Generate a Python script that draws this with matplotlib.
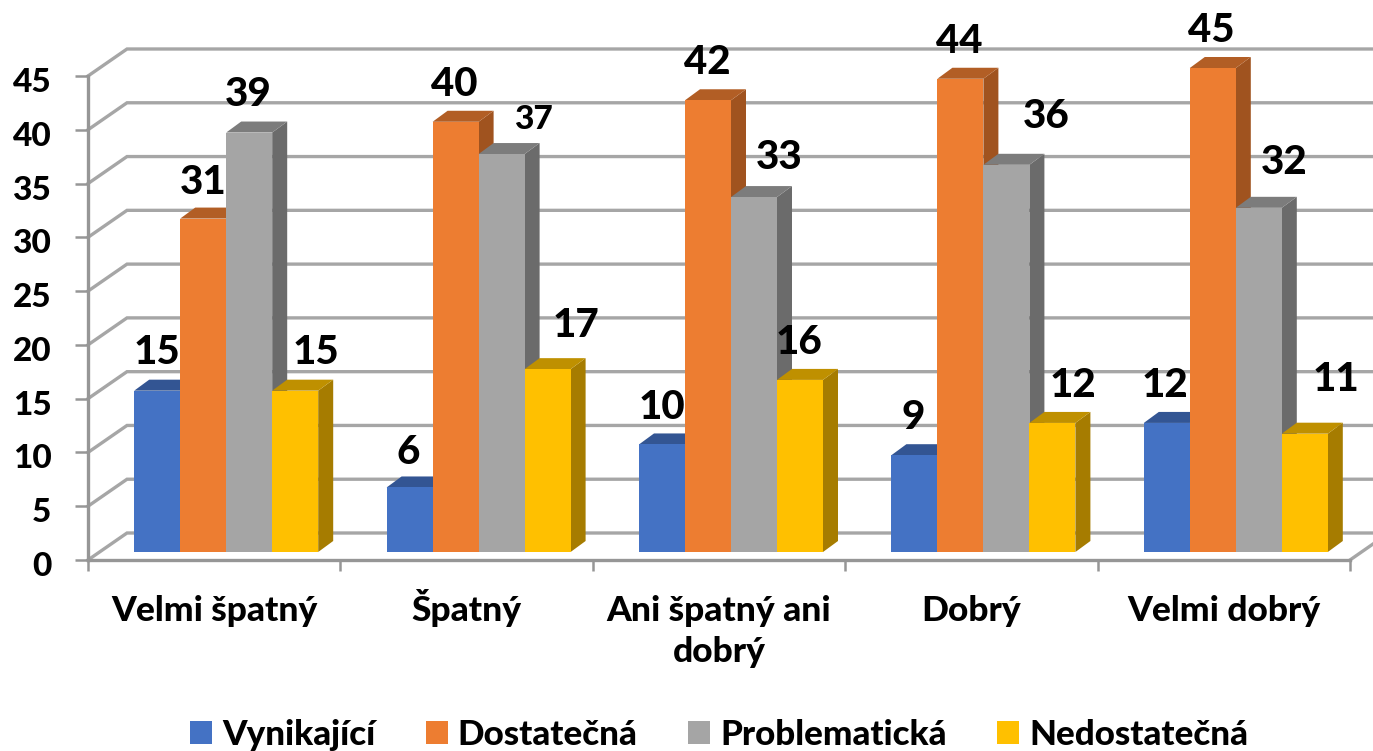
import matplotlib
matplotlib.use("Agg")
import matplotlib.pyplot as plt
from matplotlib.patches import Polygon
from matplotlib.transforms import ScaledTranslation

categories = ["Velmi špatný", "Špatný", "Ani špatný ani\ndobrý", "Dobrý", "Velmi dobrý"]
series_names = ["Vynikající", "Dostatečná", "Problematická", "Nedostatečná"]
vynikajici = [15, 6, 10, 9, 12]
dostatecna = [31, 40, 42, 44, 45]
problematicka = [39, 37, 33, 36, 32]
nedostatecna = [15, 17, 16, 12, 11]
series = [vynikajici, dostatecna, problematicka, nedostatecna]
yticks = [0, 5, 10, 15, 20, 25, 30, 35, 40, 45]

front_colors = ["#4472C4", "#ED7D31", "#A5A5A5", "#FFC000"]
top_colors = ["#335593", "#B25E25", "#7C7C7C", "#BF9000"]
side_colors = ["#2B4A80", "#A0531F", "#6B6B6B", "#A67C00"]
GRID = "#A6A6A6"
AXIS = "#969696"
WEIGHT = 900

# pixel offsets of the labels from the top centre of each bar
label_offsets = [
    [(0, 38), (0, 36), (-1, 38), (21, 38)],
    [(-1, 35), (-1, 37), (32, 35), (28, 44)],
    [(0, 37), (-1, 38), (25, 40), (-1, 37)],
    [(-1, 38), (-1, 37), (40, 48), (21, 37)],
    [(-2, 37), (-2, 37), (25, 45), (31, 54)],
]

plt.rcParams["font.family"] = ["Lato", "DejaVu Sans"]

W, H = 1373, 751
fig = plt.figure(figsize=(W / 100, H / 100), dpi=100)
L, R, B, T = 88, 1350, 560, 76
ax = fig.add_axes([L / W, (H - B) / H, (R - L) / W, (B - T) / H])
ax.set_xlim(-0.5, 4.5)
ax.set_ylim(0, 45)
ux = (R - L) / 5   # pixels per category
uy = (B - T) / 45  # pixels per value unit


def dx(p):
    return p / ux


def dy(p):
    return p / uy


# wall and floor
wx, wy = dx(39), dy(27)
for v in yticks:
    ax.plot([-0.5, -0.5 + wx, 5.0], [v, v + wy, v + wy], color=GRID, lw=2.4,
            zorder=1, clip_on=False, solid_joinstyle="miter")
ax.plot([4.5, 4.5 + dx(23)], [0, dy(16)], color=GRID, lw=2.4, zorder=1, clip_on=False)

# bars
bw = dx(46)
ox, oy = dx(12), dy(8)
ddx, ddy = dx(15), dy(11)
z = 3
for i in range(len(categories)):
    for j, vals in enumerate(series):
        v = vals[i]
        x0 = i + ox + (j - 2) * bw
        x1 = x0 + bw
        ax.add_patch(Polygon([(x1, oy), (x1 + ddx, oy + ddy), (x1 + ddx, oy + v + ddy), (x1, oy + v)],
                             closed=True, fc=side_colors[j], ec="none", zorder=z, clip_on=False))
        ax.add_patch(Polygon([(x0, oy + v), (x1, oy + v), (x1 + ddx, oy + v + ddy), (x0 + ddx, oy + v + ddy)],
                             closed=True, fc=top_colors[j], ec="none", zorder=z, clip_on=False))
        ax.bar(x0 + bw / 2, v, bw, bottom=oy, color=front_colors[j], zorder=z + 0.1, clip_on=False,
               linewidth=0)
        z += 0.2

# data labels
for i in range(len(categories)):
    for j, vals in enumerate(series):
        v = vals[i]
        x = i + ox + (j - 1.5) * bw
        ox_px, oy_px = label_offsets[i][j]
        small = (i == 1 and j == 2)
        ax.annotate(str(v), (x, oy + v), xytext=(ox_px, oy_px), textcoords="offset pixels",
                    ha="center", va="center", fontsize=24 if small else 29, fontweight=WEIGHT,
                    color="black", zorder=20, annotation_clip=False)

# axes
for s in ("top", "right"):
    ax.spines[s].set_visible(False)
for s in ("left", "bottom"):
    ax.spines[s].set_color(AXIS)
    ax.spines[s].set_linewidth(2.4)
    ax.spines[s].set_zorder(2)
ax.set_yticks(yticks)
ax.set_yticklabels([str(v) for v in yticks], fontsize=24, fontweight=WEIGHT)
ax.tick_params(axis="y", length=9.4, width=1.8, color=AXIS, pad=17)
for t in ax.get_yticklabels():
    t.set_transform(t.get_transform() + ScaledTranslation(0, -4 / 100, fig.dpi_scale_trans))
ax.set_xticks(range(len(categories)))
ax.set_xticklabels(categories, fontsize=25.5, fontweight=WEIGHT, linespacing=1.34)
ax.tick_params(axis="x", which="major", length=0, pad=25)
ax.set_xticks([k - 0.5 for k in range(len(categories) + 1)], minor=True)
ax.tick_params(axis="x", which="minor", length=8, width=1.8, color=AXIS)
ax.xaxis.get_major_ticks()[1].set_pad(21)
ax.set_facecolor("none")

# legend
handles = [plt.Rectangle((0, 0), 1, 1, fc=c, ec="none") for c in front_colors]
leg = fig.legend(handles, series_names, ncols=4, loc="center", bbox_to_anchor=(719 / W, (H - 735) / H),
                 frameon=False, prop={"size": 25.2, "weight": WEIGHT}, handlelength=0.63, handleheight=0.63,
                 handletextpad=0.29, columnspacing=1.44, borderpad=0, borderaxespad=0)

fig.savefig("out.png", dpi=100, facecolor="white")
